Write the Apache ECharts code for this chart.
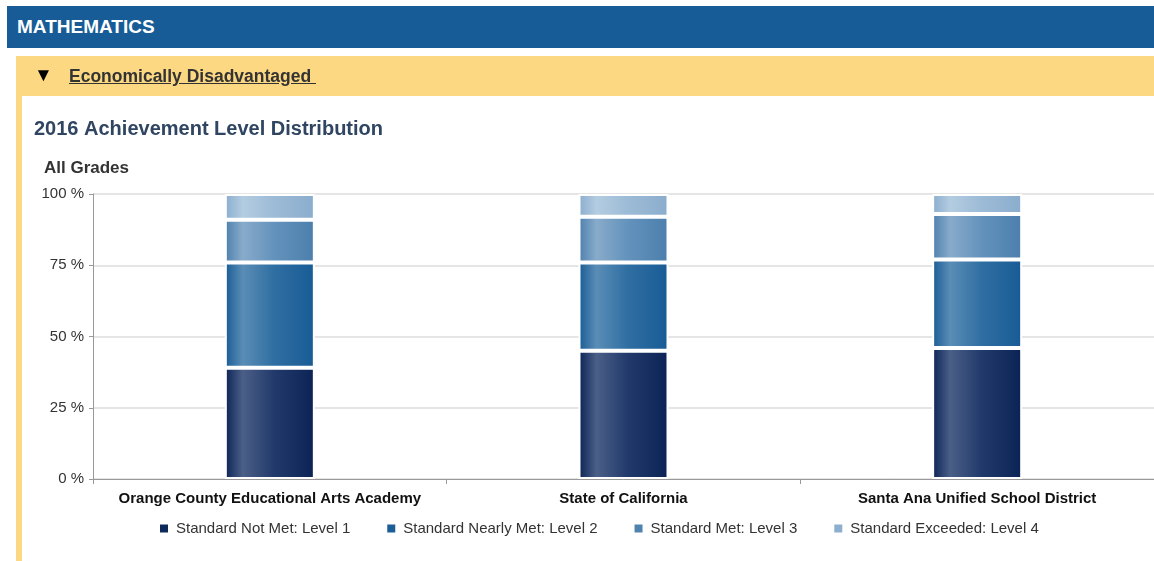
<!DOCTYPE html>
<html>
<head>
<meta charset="utf-8">
<script src="https://cdn.jsdelivr.net/npm/echarts@6/dist/echarts.min.js"></script>
<style>
  html, body { margin: 0; padding: 0; background: #fff; }
  body { width: 1154px; height: 561px; position: relative; overflow: hidden; font-family: "Liberation Sans", Arial, sans-serif; }
  .header { position: absolute; left: 7px; top: 6px; width: 1147px; height: 42px; background: #175C96; }
  .header span { position: absolute; left: 10px; top: 10px; color: #fff; font-weight: bold; font-size: 19px; }
  .band { position: absolute; left: 16px; top: 56px; width: 1138px; height: 40px; background: #FDD882; }
  .band .arrow { position: absolute; left: 18px; top: 8px; font-size: 19px; color: #000; }
  .band .label { position: absolute; left: 53px; top: 10px; font-size: 17.5px; font-weight: bold; color: #333; text-decoration: underline; }
  .rail { position: absolute; left: 16px; top: 96px; width: 6px; height: 465px; background: #FDD882; }
  #chart { position: absolute; left: 0; top: 0; width: 1154px; height: 561px; }
</style>
</head>
<body>
<div id="chart"></div>
<div class="header"><span>MATHEMATICS</span></div>
<div class="band"><span class="arrow">&#9660;</span><span class="label">Economically Disadvantaged&nbsp;</span></div>
<div class="rail"></div>
<script>
// 数据
var categories = ['Orange County Educational Arts Academy', 'State of California', 'Santa Ana Unified School District'];
var levelNames = ['Standard Not Met: Level 1', 'Standard Nearly Met: Level 2', 'Standard Met: Level 3', 'Standard Exceeded: Level 4'];
var level1 = [39, 45, 46];
var level2 = [37, 31, 31];
var level3 = [15, 16, 16];
var level4 = [9, 8, 7];
var yTicks = [0, 25, 50, 75, 100];

// 每个级别的颜色: [边缘深色, 高光, 中间]
var shades = [
  ['#0B2255', '#4B5F87', '#213A6B'],
  ['#185B95', '#5A8DB6', '#2F6EA2'],
  ['#4C7FAD', '#88ABCA', '#6392BC'],
  ['#8AADCD', '#B3CCE1', '#9DBBD6']
];
var legendColors = ['#0E2A5A', '#1B5E96', '#5082AE', '#8DAFCE'];

function barColor(i) {
  var s = shades[i];
  return new echarts.graphic.LinearGradient(0, 0, 1, 0, [
    { offset: 0, color: s[0] },
    { offset: 0.2, color: s[1] },
    { offset: 0.55, color: s[2] },
    { offset: 1, color: s[0] }
  ]);
}

var seriesData = [level1, level2, level3, level4];
var series = seriesData.map(function (data, i) {
  return {
    name: levelNames[i],
    type: 'bar',
    stack: 'total',
    barWidth: 90,
    data: data,
    itemStyle: {
      color: barColor(i),
      borderColor: '#fff',
      borderWidth: 2
    },
    emphasis: { disabled: true }
  };
});

var chart = echarts.init(document.getElementById('chart'));
chart.setOption({
  animation: false,
  textStyle: { fontFamily: 'Liberation Sans, Arial, sans-serif' },
  title: [{
    text: '2016 Achievement Level Distribution',
    left: 34, top: 119, padding: 0,
    textStyle: { fontSize: 20, fontWeight: 'bold', color: '#2F4561' }
  }, {
    text: 'All Grades',
    left: 44, top: 160, padding: 0,
    textStyle: { fontSize: 17, fontWeight: 'bold', color: '#333' }
  }],
  legend: {
    left: 153, top: 516,
    icon: 'rect',
    itemWidth: 10, itemHeight: 10,
    itemGap: 35,
    selectedMode: false,
    data: levelNames.map(function (n, i) {
      return { name: n, itemStyle: { color: legendColors[i] } };
    }),
    textStyle: { fontSize: 15, color: '#333', padding: [0, 0, 0, 2] }
  },
  grid: { left: 93, top: 194, width: 1062, bottom: 82, containLabel: false },
  xAxis: {
    type: 'category',
    data: categories,
    axisLine: { lineStyle: { color: '#999', width: 1 } },
    axisTick: { show: true, length: 5, lineStyle: { color: '#999' } },
    axisLabel: { margin: 12, fontSize: 15, fontWeight: 'bold', color: '#111', interval: 0 }
  },
  yAxis: {
    type: 'value',
    min: yTicks[0], max: yTicks[yTicks.length - 1], interval: 25,
    axisLine: { show: true, lineStyle: { color: '#999' } },
    axisTick: { show: true, length: 4, lineStyle: { color: '#999' } },
    axisLabel: { formatter: '{value} %', fontSize: 15, color: '#333', margin: 9 },
    splitLine: { lineStyle: { color: '#DCDCDC', width: 1.5 } }
  },
  series: series
});
</script>
</body>
</html>
